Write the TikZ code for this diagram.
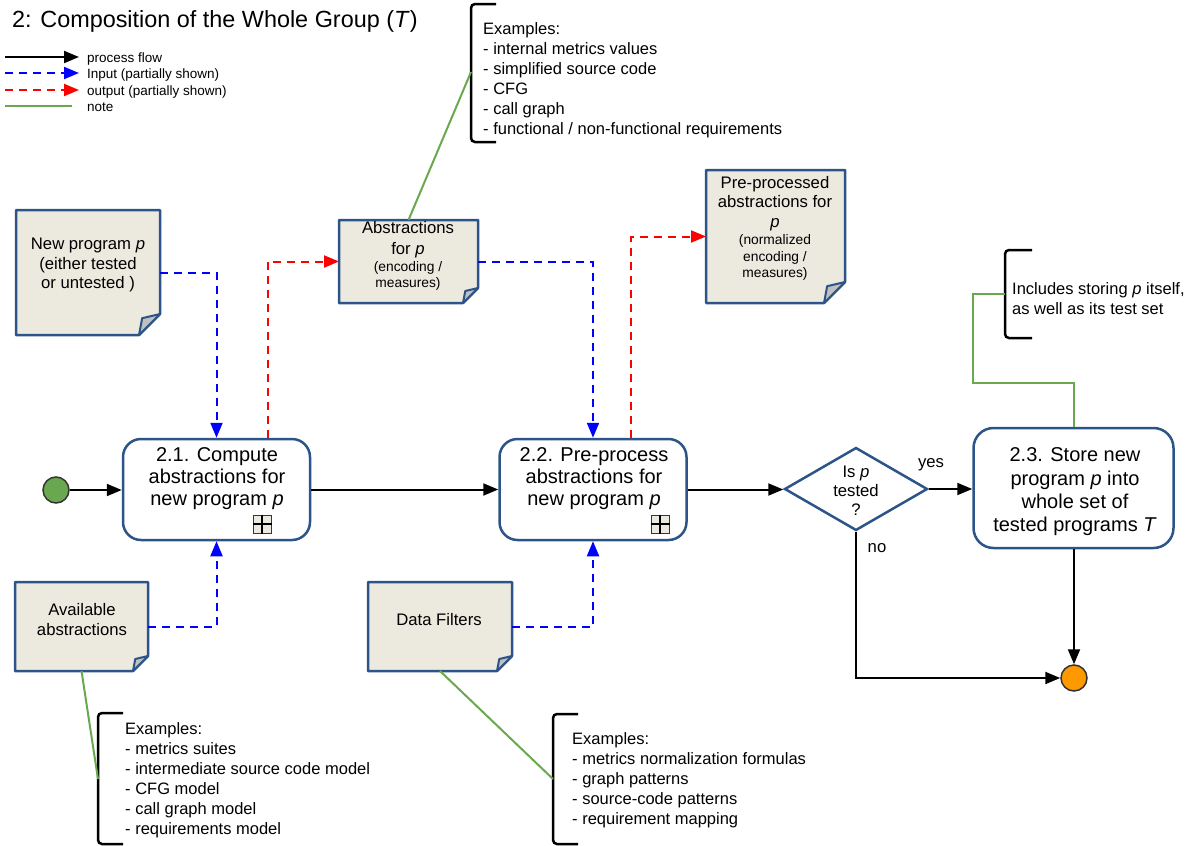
\documentclass[tikz,border=0pt]{standalone}
\usepackage{fontspec}
\setmainfont{Liberation Sans}
\usetikzlibrary{arrows.meta,calc,shapes.geometric}

\definecolor{docfill}{RGB}{236,233,223}
\definecolor{edgeblue}{RGB}{44,84,137}
\definecolor{flapgray}{RGB}{192,192,192}
\definecolor{notegreen}{RGB}{106,168,79}
\definecolor{endorange}{RGB}{255,153,0}

\tikzset{
  tip/.style={-{Triangle[length=15pt,width=12pt]}},
  flow/.style={line width=2pt, black, tip},
  inflow/.style={line width=2pt, blue, dash pattern=on 8pt off 6pt, tip},
  outflow/.style={line width=2pt, red, dash pattern=on 8pt off 6pt, tip},
  noteline/.style={notegreen, line width=2pt},
  bracketline/.style={black, line width=2.5pt, rounded corners=4pt},
  taskbox/.style={draw=edgeblue, line width=2.5pt, rounded corners=18pt, fill=white,
    minimum width=187pt, minimum height=101pt, inner sep=0pt},
  docbox/.style={inner sep=0pt, outer sep=0pt},
  docline/.style={draw=edgeblue, line width=2.5pt, fill=docfill, line join=round},
  flapline/.style={draw=edgeblue, line width=2pt, fill=flapgray, line join=round},
  decision/.style={diamond, draw=edgeblue, line width=2.5pt, fill=white, inner sep=0pt,
    minimum width=143pt, minimum height=83pt},
  marker/.style={draw=edgeblue!70!black, line width=1pt, fill=docfill, minimum size=18pt, inner sep=0pt},
  event/.style={circle, draw=black!80, line width=1.5pt, minimum size=26pt, inner sep=0pt},
  tasktext/.style={align=center, inner sep=0pt, font=\fontsize{20}{22}\selectfont},
  doctext/.style={align=center, inner sep=0pt, font=\fontsize{16.7}{19.8}\selectfont},
  smalltext/.style={align=center, inner sep=0pt, font=\fontsize{13.8}{16.2}\selectfont},
  notetext/.style={align=left, anchor=north west, inner sep=0pt, font=\fontsize{16.5}{20}\selectfont},
  legendtext/.style={anchor=base west, inner sep=0pt, font=\fontsize{13.5}{16}\selectfont},
}

% page outline with a folded bottom-right corner: #1 node, #2 fold size
\newcommand\foldedpage[2]{%
  \draw[docline] (#1.north west) -- (#1.north east) -- ($(#1.south east)+(0,-#2)$)
    -- ($(#1.south east)+(-#2,0)$) -- (#1.south west) -- cycle;
  \draw[flapline] ($(#1.south east)+(0,-#2)$) -- ($(#1.south east)+({-0.85*#2},{-0.8*#2})$)
    -- ($(#1.south east)+(-#2,0)$) -- cycle;
}
% sub-process marker: box with a plus
\newcommand\plusmarker[1]{%
  \draw[line width=2.2pt, black] (#1.north) -- (#1.south) (#1.west) -- (#1.east);
}

\begin{document}
\begin{tikzpicture}[x=1pt, y=-1pt]
\useasboundingbox (0,0) rectangle (1197,846);

% title
\node[anchor=base west, inner sep=0pt, font=\fontsize{23.4}{28}\selectfont] (title) at (12,27.5)
  {2: Composition of the Whole Group (\textit{T})};

% legend
\coordinate (lgA1) at (5,57);   \coordinate (lgA2) at (79,57);
\coordinate (lgB1) at (5,73);   \coordinate (lgB2) at (79,73);
\coordinate (lgC1) at (5,90);   \coordinate (lgC2) at (79,90);
\coordinate (lgD1) at (5,106);  \coordinate (lgD2) at (72,106);
\draw[flow] (lgA1) -- (lgA2);
\draw[inflow] (lgB1) -- (lgB2);
\draw[outflow] (lgC1) -- (lgC2);
\draw[noteline] (lgD1) -- (lgD2);
\node[legendtext] (lgAt) at (87,62) {process flow};
\node[legendtext] (lgBt) at (87,78) {Input (partially shown)};
\node[legendtext] (lgCt) at (87,95) {output (partially shown)};
\node[legendtext] (lgDt) at (87,111) {note};

% data objects
\node[docbox, minimum width=144pt, minimum height=125pt] (newp) at (88,272.5) {};
\foldedpage{newp}{21}
\node[doctext] (newpt) at (88,265) {New program \textit{p}\\(either tested\\or untested )};

\node[docbox, minimum width=139pt, minimum height=83pt] (abs) at (408.5,261.5) {};
\foldedpage{abs}{15}
\node[doctext, font=\fontsize{16.7}{21}\selectfont] (abst) at (408,240) {Abstractions\\for \textit{p}};
\node[smalltext] (abss) at (408,276) {(encoding /\\measures)};

\node[docbox, minimum width=139pt, minimum height=133pt] (pre) at (775.5,236.5) {};
\foldedpage{pre}{21}
\node[doctext] (pret) at (775,203.5) {Pre-processed\\abstractions for\\\textit{p}};
\node[smalltext] (pres) at (775,257.5) {(normalized\\encoding /\\measures)};

\node[docbox, minimum width=133pt, minimum height=89pt] (avail) at (81.5,626.5) {};
\foldedpage{avail}{15}
\node[doctext] (availt) at (82,619.5) {Available\\abstractions};

\node[docbox, minimum width=144pt, minimum height=89pt] (filt) at (440,626.5) {};
\foldedpage{filt}{15}
\node[doctext] (filtt) at (439,620) {Data Filters};

% activities
\node[event, fill=notegreen] (start) at (56,490) {};

\node[taskbox] (t21) at (216.5,489.5) {};
\node[tasktext] (t21t) at (217,478.5) {2.1. Compute\\abstractions for\\new program \textit{p}};
\node[marker] (m21) at (262,524) {};
\plusmarker{m21}

\node[taskbox] (t22) at (593,489.5) {};
\node[tasktext] (t22t) at (594,478.5) {2.2. Pre-process\\abstractions for\\new program \textit{p}};
\node[marker] (m22) at (660,524) {};
\plusmarker{m22}

\node[decision] (dec) at (856,489) {};
\node[doctext, font=\fontsize{16.7}{18.8}\selectfont] (dect) at (856,490.5) {Is \textit{p}\\tested\\?};

\node[taskbox, minimum width=200pt, minimum height=120pt, rounded corners=20pt] (t23) at (1073.5,488) {};
\node[tasktext, font=\fontsize{20}{23.3}\selectfont] (t23t) at (1075,492) {2.3. Store new\\program \textit{p} into\\whole set of\\tested programs \textit{T}};

\node[event, fill=endorange] (end) at (1074,678) {};

% process flow
\draw[flow] (start.east) -- (start.east -| t21.west);
\draw[flow] (t21.east) -- (t22.west);
\draw[flow] (t22.east) -- (t22.east -| dec.west);
\draw[flow] (dec.east) -- (dec.east -| t23.west);
\draw[flow] (dec.south) |- (end.west);
\draw[flow] (end.north |- t23.south) -- (end.north);
\node[doctext] (yes) at (931,465) {yes};
\node[doctext] (no) at (877,548) {no};

% inputs and outputs
\draw[inflow] (newp.east) -| (t21.north);
\draw[outflow] ($(t21.north)+(51,0)$) |- (abs.west);
\draw[inflow] (abs.east) -| (t22.north);
\draw[outflow] ($(t22.north)+(38,0)$) |- (pre.west);
\draw[inflow] (avail.east) -| (t21.south);
\draw[inflow] (filt.east) -| (t22.south);

% annotations
\draw[bracketline] (496,4) -- (471,4) -- (471,142) -- (496,142);
\coordinate (brA) at (471,72);
\node[notetext] (noteA) at (483,22) {Examples:\\- internal metrics values\\- simplified source code\\- CFG\\- call graph\\- functional / non-functional requirements};
\draw[noteline] (abs.north) -- (brA);

\draw[bracketline] (1032,250) -- (1005,250) -- (1005,338) -- (1032,338);
\coordinate (brB) at (1005,294);
\node[notetext] (noteB) at (1012,282) {Includes storing \textit{p} itself,\\as well as its test set};
\draw[noteline] (t23.north) -- (t23.north |- 0,383) -- (973,383) -- (973,294) -- (brB);

\draw[bracketline] (123,713) -- (98,713) -- (98,844) -- (123,844);
\coordinate (brC) at (98,779);
\node[notetext] (noteC) at (125,722) {Examples:\\- metrics suites\\- intermediate source code model\\- CFG model\\- call graph model\\- requirements model};
\draw[noteline] (avail.south) -- (brC);

\draw[bracketline] (578,714) -- (553,714) -- (553,844) -- (578,844);
\coordinate (brD) at (553,779);
\node[notetext] (noteD) at (572,732) {Examples:\\- metrics normalization formulas\\- graph patterns\\- source-code patterns\\- requirement mapping};
\draw[noteline] (filt.south) -- (brD);

\end{tikzpicture}
\end{document}
